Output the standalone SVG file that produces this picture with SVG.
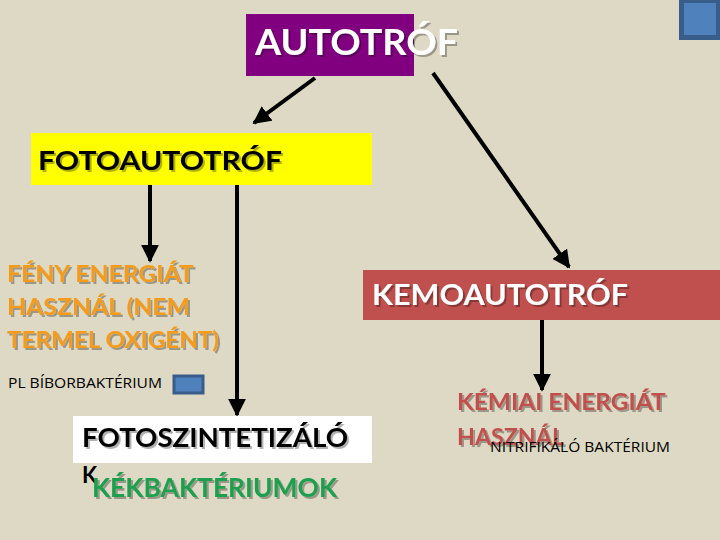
<svg xmlns="http://www.w3.org/2000/svg" width="720" height="540" viewBox="0 0 720 540">
<defs>
<style>
.b{font-family:Lato,"Open Sans","Liberation Sans",sans-serif;font-weight:bold}
.r{font-family:"Open Sans","Liberation Sans",sans-serif;font-size:14px;fill:#000}
.w{fill:#fff}
.conn line{stroke:#000;stroke-width:4}
</style>
<filter id="sh" x="-5%" y="-20%" width="115%" height="150%">
<feDropShadow dx="2" dy="2" stdDeviation="0.6" flood-color="#000" flood-opacity="0.3"/>
</filter>
<marker id="ah" viewBox="0 0 10 10" refX="9" refY="5" markerWidth="4.5" markerHeight="4.5" orient="auto" markerUnits="strokeWidth">
<path d="M0,0 L10,5 L0,10 z" fill="#000"/>
</marker>
</defs>
<rect width="720" height="540" fill="#DDD9C4"/>
<g id="corner">
<rect x="679" y="-2" width="43" height="42" fill="#385D8A"/>
<rect x="684" y="3" width="32" height="32" fill="#4F81BD"/>
</g>
<g class="conn" id="connectors">
<line x1="315" y1="78" x2="254" y2="123" marker-end="url(#ah)"/>
<line x1="433" y1="73" x2="569" y2="267" marker-end="url(#ah)"/>
<line x1="150" y1="185" x2="150" y2="261" marker-end="url(#ah)"/>
<line x1="237" y1="185" x2="237" y2="415" marker-end="url(#ah)"/>
<line x1="542" y1="315" x2="542" y2="390" marker-end="url(#ah)"/>
</g>
<g id="autotrof">
<rect x="246" y="14" width="168" height="62" fill="#800080"/>
<text class="b w" x="255" y="55" font-size="36" textLength="203" lengthAdjust="spacingAndGlyphs" filter="url(#sh)">AUTOTRÓF</text>
</g>
<g id="fotoautotrof">
<rect x="31" y="133" width="341" height="52" fill="#FFFF00"/>
<text class="b" x="38" y="170" font-size="26" fill="#000" textLength="244" lengthAdjust="spacingAndGlyphs" filter="url(#sh)">FOTOAUTOTRÓF</text>
</g>
<g id="feny">
<text class="b" font-size="23" fill="#F59B1C" filter="url(#sh)">
<tspan x="7" y="282" textLength="186" lengthAdjust="spacingAndGlyphs">FÉNY ENERGIÁT</tspan>
<tspan x="7" y="315" textLength="183" lengthAdjust="spacingAndGlyphs">HASZNÁL (NEM</tspan>
<tspan x="7" y="348" textLength="212" lengthAdjust="spacingAndGlyphs">TERMEL OXIGÉNT)</tspan>
</text>
</g>
<g id="bibor">
<text class="r" x="8" y="388" textLength="154" lengthAdjust="spacingAndGlyphs">PL BÍBORBAKTÉRIUM</text>
<rect x="174" y="376" width="29" height="17" fill="#4F81BD" stroke="#385D8A" stroke-width="3"/>
</g>
<g id="fotoszint">
<rect x="73" y="416" width="299" height="47" fill="#FFFFFF"/>
<text class="b" x="82" y="447" font-size="26" fill="#000" textLength="266" lengthAdjust="spacingAndGlyphs" filter="url(#sh)">FOTOSZINTETIZÁLÓ</text>
<text class="b" x="82" y="483" font-size="22" fill="#000">K</text>
<text class="b" x="92" y="497" font-size="26" fill="#1FA050" textLength="245" lengthAdjust="spacingAndGlyphs" filter="url(#sh)">KÉKBAKTÉRIUMOK</text>
</g>
<g id="kemoautotrof">
<rect x="363" y="270" width="357" height="50" fill="#C0504D"/>
<text class="b w" x="372" y="305" font-size="28" textLength="256" lengthAdjust="spacingAndGlyphs" filter="url(#sh)">KEMOAUTOTRÓF</text>
</g>
<g id="kemiai">
<text class="b" font-size="23" fill="#C0504D" filter="url(#sh)">
<tspan x="457" y="410" textLength="208" lengthAdjust="spacingAndGlyphs">KÉMIAI ENERGIÁT</tspan>
<tspan x="457" y="445" textLength="107" lengthAdjust="spacingAndGlyphs">HASZNÁL</tspan>
</text>
<text class="r" x="490" y="452" textLength="180" lengthAdjust="spacingAndGlyphs">NITRIFIKÁLÓ BAKTÉRIUM</text>
</g>
</svg>
